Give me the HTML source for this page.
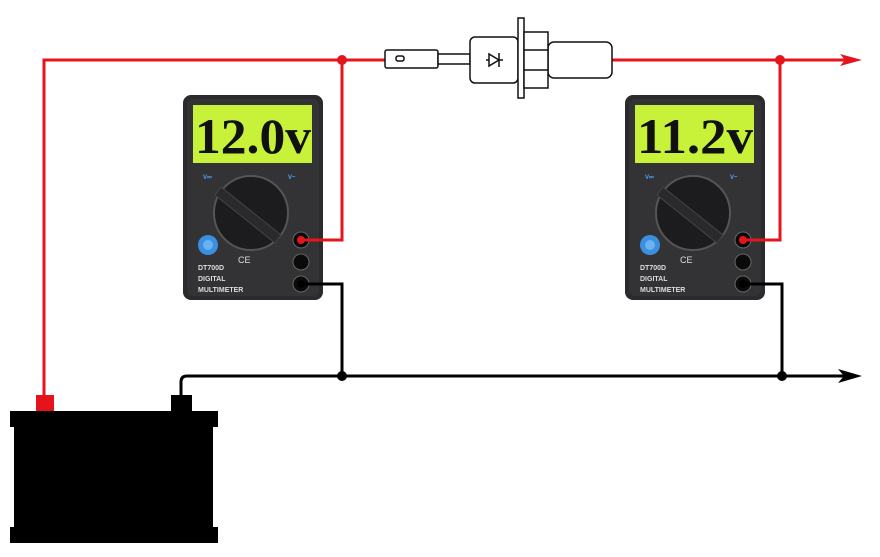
<!DOCTYPE html>
<html><head><meta charset="utf-8"><style>
html,body{margin:0;padding:0;background:#fff;}
svg{display:block}
.s{font-family:"Liberation Sans",sans-serif;}
.big{font-family:"Liberation Serif",serif;font-weight:bold;}
</style></head><body>
<svg width="880" height="557" viewBox="0 0 880 557" xmlns="http://www.w3.org/2000/svg">
<defs>
<g id="meter">
  <rect x="0" y="0" width="140" height="205" rx="8" fill="#2b2b2d"/>
  <rect x="4" y="4" width="132" height="197" rx="6" fill="#333336"/>
  <rect x="10" y="10" width="119" height="58" fill="#c8f23a"/>
  <circle cx="68" cy="118" r="37" fill="#1c1c1e" stroke="#555" stroke-width="2"/>
  <path d="M38 92 L98 140 L92 148 L32 100 Z" fill="#2a2a2c" stroke="#444"/>
  <circle cx="25" cy="150" r="10" fill="#3a8fe0"/>
  <circle cx="25" cy="150" r="5" fill="#6ab2f0"/>
  <text class="s" x="20" y="84" font-size="6" fill="#4aa3ff" font-weight="bold">V⎓</text>
  <text class="s" x="105" y="84" font-size="6" fill="#4aa3ff" font-weight="bold">V~</text>
  <text class="s" x="15" y="175" font-size="7" fill="#ddd" font-weight="bold">DT700D</text>
  <text class="s" x="15" y="186" font-size="7" fill="#ddd" font-weight="bold">DIGITAL</text>
  <text class="s" x="15" y="197" font-size="7" fill="#ddd" font-weight="bold">MULTIMETER</text>
  <text class="s" x="55" y="168" font-size="9" fill="#ddd">CE</text>
  <circle cx="118" cy="145" r="8" fill="#0a0a0a" stroke="#666"/>
  <circle cx="118" cy="167" r="8" fill="#0a0a0a" stroke="#666"/>
  <circle cx="118" cy="189" r="8" fill="#0a0a0a" stroke="#666"/>
</g>
</defs>
<use href="#meter" x="183" y="95"/>
<text class="big" x="195" y="153" font-size="50" textLength="116" lengthAdjust="spacingAndGlyphs" fill="#111">12.0v</text>
<use href="#meter" x="625" y="95"/>
<text class="big" x="637" y="153" font-size="50" textLength="116" lengthAdjust="spacingAndGlyphs" fill="#111">11.2v</text>
<!-- red wires -->
<g stroke="#e5141c" stroke-width="3" fill="none">
  <polyline points="44,400 44,60 388,60"/>
  <polyline points="342,60 342,240 302,240"/>
  <polyline points="610,60 845,60"/>
  <polyline points="780,60 780,240 744,240"/>
</g>
<circle cx="301" cy="240" r="4" fill="#e5141c"/>
<circle cx="743" cy="240" r="4" fill="#e5141c"/>
<polygon points="840,54 862,60 840,66 845,60" fill="#e5141c"/>
<circle cx="342" cy="60" r="5" fill="#e5141c"/>
<circle cx="780" cy="60" r="5" fill="#e5141c"/>
<!-- black wires -->
<g stroke="#000" stroke-width="3" fill="none">
  <path d="M181,400 L181,382 Q181,376 187,376 L845,376"/>
  <polyline points="302,284 342,284 342,376"/>
  <polyline points="744,284 782,284 782,376"/>
</g>
<circle cx="301" cy="284" r="4" fill="#000"/>
<circle cx="743" cy="284" r="4" fill="#000"/>
<polygon points="838,369 862,376 838,383 844,376" fill="#000"/>
<circle cx="342" cy="376" r="5" fill="#000"/>
<circle cx="782" cy="376" r="5" fill="#000"/>
<!-- battery -->
<rect x="36" y="395" width="18" height="17" fill="#e5141c"/>
<rect x="171" y="395" width="21" height="17" fill="#000"/>
<rect x="10" y="411" width="208" height="16" fill="#000"/>
<rect x="14" y="426" width="199" height="102" fill="#000"/>
<rect x="10" y="527" width="208" height="16" fill="#000"/>
<!-- diode -->
<g stroke="#111" stroke-width="1.5" fill="#fff">
  <rect x="385" y="50" width="53" height="18" rx="2"/>
  <rect x="396" y="56" width="8" height="5" rx="2"/>
  <rect x="438" y="54" width="32" height="10"/>
  <rect x="548" y="42" width="64" height="36" rx="6"/>
  <rect x="470" y="37" width="48" height="46" rx="5"/>
  <rect x="518" y="18" width="6" height="80"/>
  <rect x="524" y="32" width="24" height="56"/>
  <line x1="524" y1="50" x2="548" y2="50"/>
  <line x1="524" y1="70" x2="548" y2="70"/>
  <line x1="486" y1="60" x2="503" y2="60"/>
  <polygon points="489,54 489,66 499,60" fill="#fff"/>
  <line x1="499" y1="53" x2="499" y2="67"/>
</g>
</svg>
</body></html>
